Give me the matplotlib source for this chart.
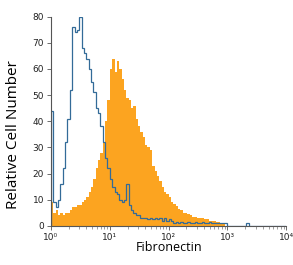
import numpy as np
import matplotlib
matplotlib.use('Agg')
import matplotlib.pyplot as plt
from matplotlib.ticker import LogLocator, NullFormatter

# histogram channels: 25 per decade, 10^0 .. 10^4
edges = np.logspace(0, 4, 101)

fibronectin = [9, 5, 6, 4, 5, 4, 5, 5, 6, 7,
               7, 8, 8, 9, 10, 11, 13, 15, 18, 22,
               25, 28, 32, 40, 48, 60, 64, 59, 63, 60,
               56, 52, 49, 48, 45, 46, 41, 38, 36, 34,
               31, 30, 29, 23, 21, 19, 17, 15, 13, 12,
               11, 9, 8.5, 7.5, 6.5, 6, 5, 5, 4.5, 4,
               3.5, 3.5, 3, 3, 3, 2.5, 2.5, 2, 2, 2,
               1.5, 1.5, 1, 0.5, 0, 0, 0, 0, 0, 0,
               0, 0, 0, 0, 0, 0, 0, 0, 0, 0,
               0, 0, 0, 0, 0, 0, 0, 0, 0, 0]

isotype = [44, 9, 7, 10, 16, 22, 32, 41, 52, 76,
           74, 75, 80, 68, 66, 64, 60, 55, 51, 45,
           43, 38, 32, 26, 22, 18, 15, 13, 12, 10,
           9, 10, 16, 8, 6, 5, 4, 4, 3, 3,
           3, 2.5, 3, 2.5, 3, 2.5, 3, 2, 3, 2,
           2.5, 2, 1, 1.5, 1, 1.5, 1, 1, 1.5, 1,
           1, 1.5, 1, 1, 1.5, 1, 1, 1.5, 1, 1,
           1, 1, 1, 1, 1, 0, 0, 0, 0, 0,
           0, 0, 0, 1, 0, 0, 0, 0, 0, 0,
           0, 0, 0, 0, 0, 0, 0, 0, 0, 0]

xticks = [1, 10, 100, 1000, 10000]
xticklabels = ['10⁰', '10¹', '10²', '10³', '10⁴']

fig = plt.figure(figsize=(2.93, 2.65), dpi=100)
ax = fig.add_axes([0.174, 0.148, 0.803, 0.789])

ax.stairs(fibronectin, edges, fill=True, color='#fca420', linewidth=0)
ax.stairs(isotype, edges, color='#336b98', linewidth=0.9)

ax.set_xscale('log')
ax.set_xlim(1, 1e4)
ax.set_ylim(0, 80)
ax.set_yticks(range(0, 81, 10))
ax.set_xticks(xticks, labels=xticklabels)
ax.xaxis.set_minor_locator(LogLocator(base=10, subs=np.arange(2, 10), numticks=10))
ax.xaxis.set_minor_formatter(NullFormatter())

for s in ['top', 'right']:
    ax.spines[s].set_visible(False)
for s in ['left', 'bottom']:
    ax.spines[s].set_color('#555555')
    ax.spines[s].set_linewidth(0.8)

tickfont = ['Liberation Sans Narrow', 'DejaVu Sans']
ax.tick_params(axis='both', which='major', length=3, width=0.6, colors='#555555',
               labelcolor='#222222', labelsize=6.5, pad=2)
ax.tick_params(axis='x', which='minor', length=2, width=0.5, colors='#777777')
for lab in ax.get_xticklabels() + ax.get_yticklabels():
    lab.set_family(tickfont)

ax.set_xlabel('Fibronectin', fontsize=9, family='Open Sans')
ax.set_ylabel('Relative Cell Number', fontsize=11, family='Open Sans')
ax.xaxis.set_label_coords(0.502, -0.074)
ax.yaxis.set_label_coords(-0.128, 0.434)

fig.savefig('out.png', dpi=100)
